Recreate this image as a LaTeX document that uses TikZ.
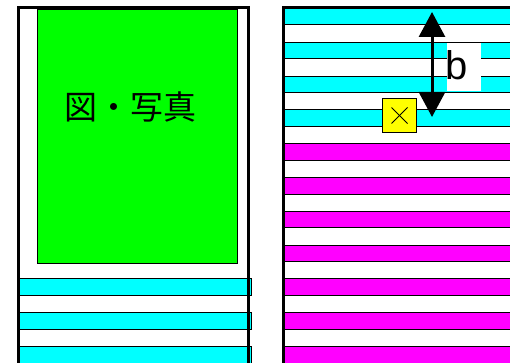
\documentclass[tikz,border=0pt]{standalone}
\usepackage{fontspec}
\setsansfont{Liberation Sans}
\newfontfamily\jpfont{Noto Sans CJK JP}
\usetikzlibrary{arrows.meta}
\definecolor{PhotoColor}{HTML}{00FF00}
\definecolor{CyanColor}{HTML}{00FFFF}
\definecolor{MagentaColor}{HTML}{FF00FF}
\definecolor{MarkColor}{HTML}{FFFF00}
\tikzset{
  stripe/.style={draw=black, line width=1pt},
  border/.style={draw=black, line width=3pt},
  bhead/.tip={Triangle[width=26pt, length=25pt]}
}

\begin{document}
\begin{tikzpicture}[x=1pt, y=-1pt]
  \useasboundingbox (0,0) rectangle (510,363);
  % left page
  \draw[stripe, fill=PhotoColor] (37,10) rectangle (237,263);
  \node[font=\jpfont\fontsize{33}{33}\selectfont] (phototext) at (130,107) {図・写真};
  \foreach \i in {8,9,10}
    \draw[stripe, fill=CyanColor] (19.5,{8.5+33.8*\i}) rectangle (251,{25+33.8*\i});
  \draw[border] (18.5,366) |- (248.5,7.5) -- (248.5,366);
  % right page
  \foreach \i in {0,...,3}
    \draw[stripe, fill=CyanColor] (284,{8.5+33.8*\i}) rectangle (515,{25+33.8*\i});
  \foreach \i in {4,...,10}
    \draw[stripe, fill=MagentaColor] (284,{8.5+33.8*\i}) rectangle (515,{25+33.8*\i});
  \draw[border] (283.5,366) |- (515,7.5);
  % pitch b
  \node[fill=white, minimum width=34pt, minimum height=48pt, inner sep=0pt] (bbox) at (464,67) {};
  \node[anchor=west, inner sep=0pt, font=\sffamily\fontsize{40}{40}\selectfont] (blabel) at (445,65.5) {b};
  \coordinate (btop) at (432,12);
  \coordinate (bbot) at (432,117);
  \draw[line width=3pt, bhead-bhead] (btop) -- (bbot);
  % mark
  \node[draw=black, fill=MarkColor, line width=1pt, minimum size=34pt, inner sep=0pt] (mark) at (399.5,115.5) {};
  \draw[line width=0.8pt] ([shift={(-8,-8)}]mark.center) -- ([shift={(8,8)}]mark.center);
  \draw[line width=0.8pt] ([shift={(-8,8)}]mark.center) -- ([shift={(8,-8)}]mark.center);
\end{tikzpicture}
\end{document}
